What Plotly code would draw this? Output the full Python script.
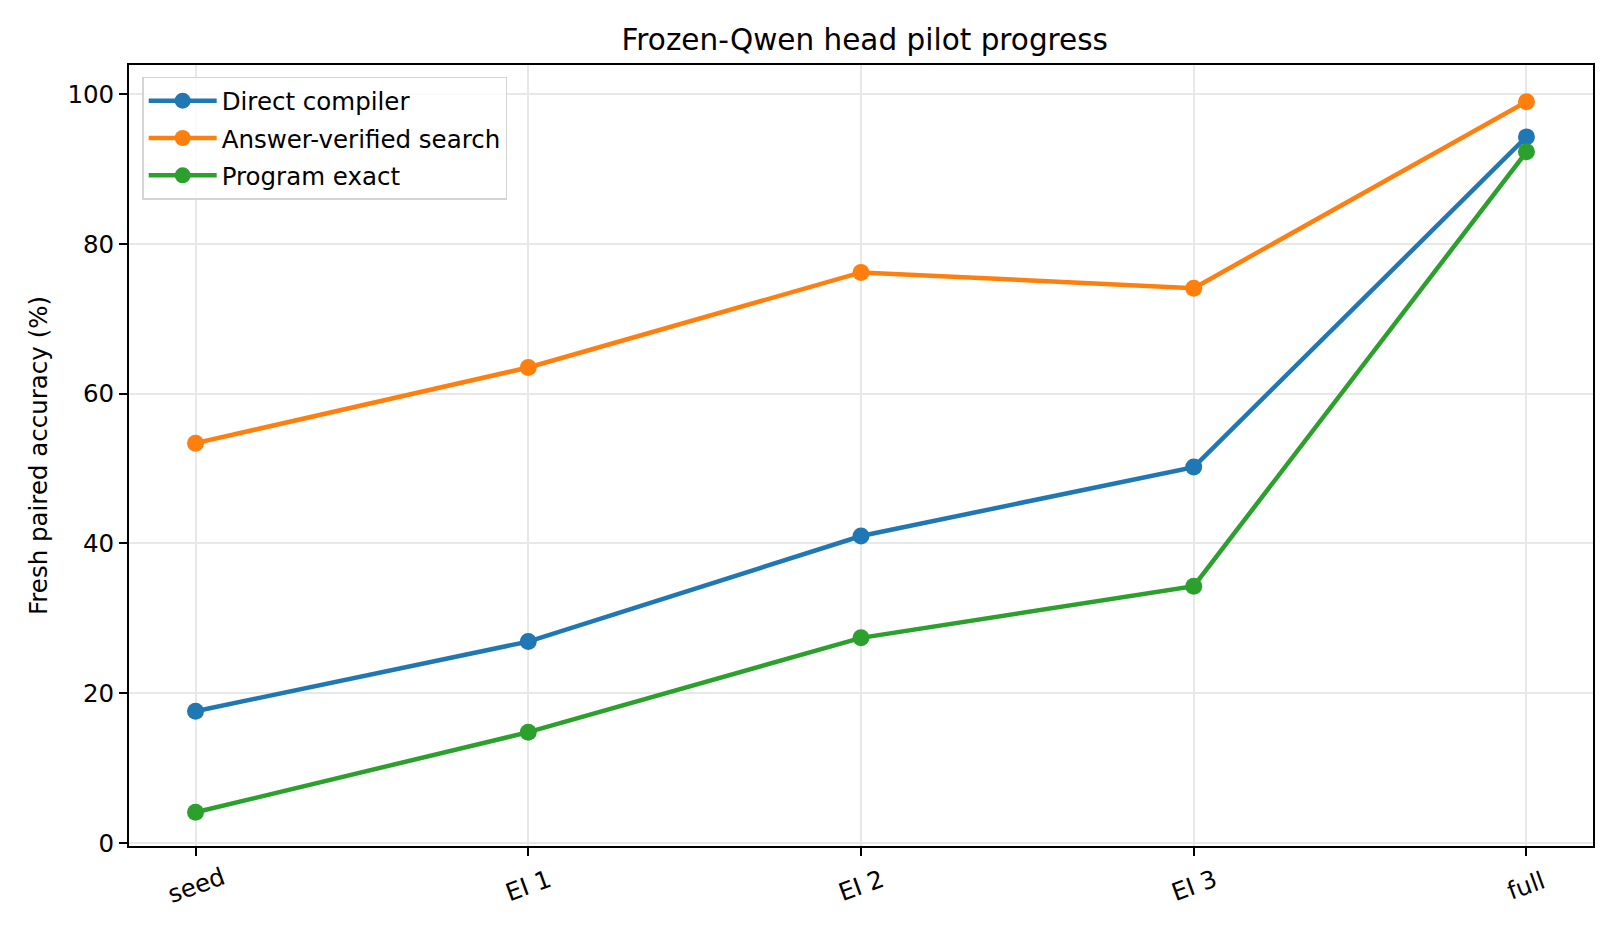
import plotly.graph_objects as go

stages = ["seed", "EI 1", "EI 2", "EI 3", "full"]
direct_compiler = [17.6, 26.9, 41.0, 50.2, 94.3]
answer_verified = [53.4, 63.5, 76.2, 74.1, 99.0]
program_exact = [4.1, 14.8, 27.4, 34.3, 92.3]
y_ticks = [0, 20, 40, 60, 80, 100]

series = [
    ("Direct compiler", direct_compiler, "#1f77b4"),
    ("Answer-verified search", answer_verified, "#ff7f0e"),
    ("Program exact", program_exact, "#2ca02c"),
]

font = "DejaVu Sans"
fs = 24.5

fig = go.Figure()
for name, vals, color in series:
    fig.add_trace(go.Scatter(
        x=list(range(len(stages))), y=vals, mode="lines+markers", name=name,
        legendgroup=name,
        line=dict(color=color, width=4.5),
        marker=dict(color=color, size=17),
    ))

# rotated x labels, centred under each tick like matplotlib does
for i, lab in enumerate(stages):
    fig.add_annotation(x=i, y=0, xref="x", yref="paper", text=lab,
                       showarrow=False, textangle=-20, yanchor="middle",
                       yshift=-39, font=dict(family=font, size=fs, color="black"))

# page body has an 8px margin, so the figure is 8px smaller and shifted
fig.update_layout(
    width=1612, height=928,
    margin=dict(l=121, r=27, t=57, b=90),
    paper_bgcolor="white", plot_bgcolor="white",
    font=dict(family=font, size=fs, color="black"),
    title=dict(text="Frozen-Qwen head pilot progress", x=0.5315, xanchor="center",
               y=0.9655, yanchor="middle", font=dict(size=29.5)),
    legend=dict(x=0.009, y=0.985, xanchor="left", yanchor="top",
                bordercolor="#d4d4d4", borderwidth=1.5, bgcolor="rgba(255,255,255,0.8)",
                font=dict(size=fs), traceorder="grouped", tracegroupgap=2.5,
                itemwidth=68),
    showlegend=True,
)
fig.update_xaxes(
    range=[-0.2, 4.2], tickvals=list(range(len(stages))), showticklabels=False,
    ticks="outside", ticklen=8, tickwidth=1.5, tickcolor="black",
    showline=True, linecolor="black", linewidth=1.8, mirror=True,
    showgrid=True, gridcolor="#e8e8e8", gridwidth=1.5, zeroline=False,
)
fig.update_yaxes(
    range=[-0.4, 103.9], tickvals=y_ticks, ticks="outside", ticklen=8,
    tickwidth=1.5, tickcolor="black",
    showline=True, linecolor="black", linewidth=1.8, mirror=True,
    showgrid=True, gridcolor="#e8e8e8", gridwidth=1.5, zeroline=False,
    title=dict(text="Fresh paired accuracy (%)", standoff=13, font=dict(size=fs)),
)

fig.write_html("out.html")
